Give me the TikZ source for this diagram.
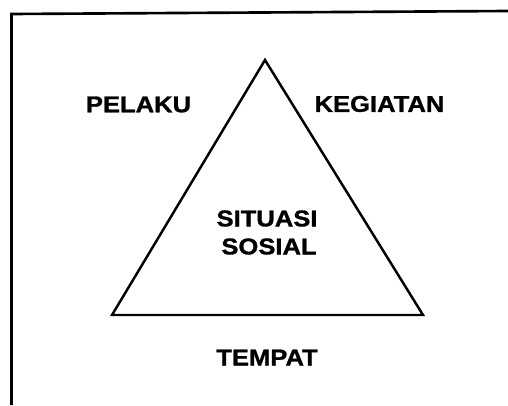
\documentclass[tikz,border=0pt]{standalone}
\usepackage{fontspec}
\usepackage{tikz}
\newfontfamily\diagfont{Liberation Sans}[FakeStretch=1.12, FakeBold=1.2]

\begin{document}
\begin{tikzpicture}[
  label/.style={font=\diagfont\fontsize{13}{15}\selectfont\bfseries, inner sep=0pt},
  side/.style={line width=1.4pt, line join=miter},
  frame/.style={line width=1.5pt},
]

\useasboundingbox (0, 0) rectangle (10.16, 8.10);

% frame (left and top edge only)
\coordinate (f1) at (0.23, 0);
\coordinate (f2) at (0.23, 7.82);
\coordinate (f3) at (10.16, 7.88);
\draw[frame] (f1) -- (f2) -- (f3);

% triangle
\coordinate (apex) at (5.30, 6.90);
\coordinate (bl) at (2.24, 1.80);
\coordinate (br) at (8.46, 1.80);
\draw[side] (apex) -- (bl) -- (br) -- cycle;

\node[label] (pelaku) at (2.77, 6.01) {PELAKU};
\node[label] (kegiatan) at (7.59, 6.02) {KEGIATAN};
\node[label] (situasi) at (5.34, 3.73) {SITUASI};
\node[label] (sosial) at (5.38, 3.17) {SOSIAL};
\node[label] (tempat) at (5.34, 0.95) {TEMPAT};

\end{tikzpicture}
\end{document}
